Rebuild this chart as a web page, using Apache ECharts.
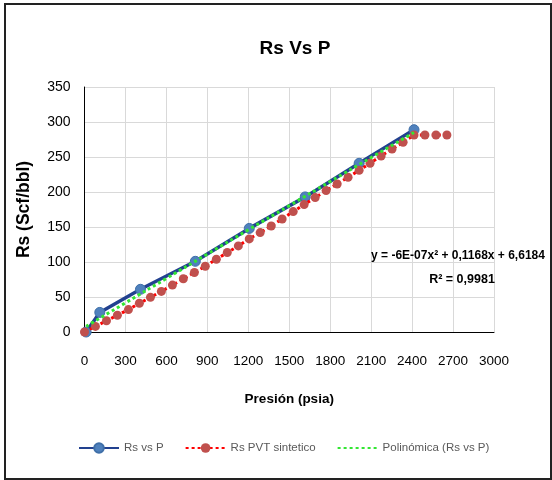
<!DOCTYPE html>
<html>
<head>
<meta charset="utf-8">
<script src="https://cdn.jsdelivr.net/npm/echarts@6/dist/echarts.min.js"></script>
<style>
  html, body { margin: 0; padding: 0; background: #fff; }
  #chart { width: 552px; height: 480px; }
</style>
</head>
<body>
<div id="chart"></div>
<script>
// Laboratory solution gas-oil ratio vs pressure
const presLab = [12, 112, 410, 812, 1207, 1617, 2012, 2414];
const rsLab = [0, 28, 61, 101, 148, 193, 241, 289];

// Synthetic PVT curve (constant above the bubble point)
const presPVT = [0, 80, 161, 241, 322, 402, 483, 563, 644, 724, 805, 885, 966, 1046, 1127,
  1207, 1287, 1368, 1448, 1529, 1609, 1690, 1770, 1851, 1931, 2012, 2092, 2173, 2253, 2334,
  2414, 2494, 2575, 2655];
const rsPVT = [0, 8, 16, 24, 32, 41, 49.5, 58, 67, 76, 85, 94, 104, 113.5, 123,
  133, 142, 151.5, 161.5, 172, 182, 192, 202, 211.5, 221, 231, 241, 251.5, 261.5, 271,
  281.5, 281.5, 281.5, 281.5];

// Polynomial trend line of the laboratory data
const presTrend = [12, 300, 600, 900, 1200, 1500, 1800, 2100, 2414];
const rsTrend = [8, 41.6, 76.5, 111.3, 145.9, 180.5, 214.9, 249.3, 285.1];

const xTicks = { min: 0, max: 3000, interval: 300 };
const yTicks = { min: 0, max: 350, interval: 50 };

const seriesNames = ['Rs vs P', 'Rs PVT sintetico', 'Polinómica (Rs vs P)'];
const trendEquation = 'y = -6E-07x² + 0,1168x + 6,6184';
const trendR2 = 'R² = 0,9981';

const FONT = "'Liberation Sans', Arial, sans-serif";

const zip = (xs, ys) => xs.map((x, i) => [x, ys[i]]);
const plain = v => String(v);

const chart = echarts.init(document.getElementById('chart'));
chart.setOption({
  animation: false,
  backgroundColor: '#fff',
  textStyle: { fontFamily: FONT },
  title: {
    text: 'Rs Vs P',
    left: 290, top: 34, textAlign: 'center',
    textStyle: { fontFamily: FONT, fontSize: 19, fontWeight: 'bold', color: '#000' }
  },
  grid: { left: 84.5, right: 58, top: 87, bottom: 148 },
  xAxis: {
    type: 'value', min: xTicks.min, max: xTicks.max, interval: xTicks.interval,
    name: 'Presión (psia)', nameLocation: 'middle', nameGap: 60,
    nameTextStyle: { fontFamily: FONT, fontSize: 13.5, fontWeight: 'bold', color: '#000' },
    axisLine: { show: true, lineStyle: { color: '#000', width: 1 } },
    axisTick: { show: false },
    axisLabel: { margin: 22, fontFamily: FONT, fontSize: 13.5, color: '#000',
      formatter: plain, showMaxLabel: true, showMinLabel: true, hideOverlap: false },
    splitLine: { show: true, lineStyle: { color: '#d9d9d9', width: 1 } }
  },
  yAxis: {
    type: 'value', min: yTicks.min, max: yTicks.max, interval: yTicks.interval,
    name: 'Rs (Scf/bbl)', nameLocation: 'middle', nameGap: 51, nameRotate: 90,
    nameTextStyle: { fontFamily: FONT, fontSize: 17.5, fontWeight: 'bold', color: '#000' },
    axisLine: { show: true, lineStyle: { color: '#000', width: 1 } },
    axisTick: { show: false },
    axisLabel: { margin: 14, fontFamily: FONT, fontSize: 14, color: '#000', formatter: plain },
    splitLine: { show: true, lineStyle: { color: '#d9d9d9', width: 1 } }
  },
  legend: {
    top: 442, left: 78, width: 470, padding: 0,
    itemWidth: 40, itemHeight: 12, itemGap: 21,
    textStyle: { fontFamily: FONT, fontSize: 11.5, color: '#595959' },
    data: [
      { name: seriesNames[0] },
      { name: seriesNames[1] },
      { name: seriesNames[2], itemStyle: { opacity: 0 } }
    ]
  },
  series: [
    {
      name: seriesNames[0], type: 'line', data: zip(presLab, rsLab),
      symbol: 'circle', symbolSize: 10,
      lineStyle: { color: '#22418f', width: 3.5 },
      itemStyle: { color: '#4f81bd', borderColor: '#3f6fa8', borderWidth: 1 },
      z: 2
    },
    {
      name: seriesNames[1], type: 'line', data: zip(presPVT, rsPVT),
      symbol: 'circle', symbolSize: 9,
      lineStyle: { color: '#ff0000', width: 3, type: [3, 3] },
      itemStyle: { color: '#c0504d', borderColor: '#c0504d', borderWidth: 0 },
      z: 3
    },
    {
      name: seriesNames[2], type: 'line', data: zip(presTrend, rsTrend),
      symbol: 'none', smooth: true,
      lineStyle: { color: '#33e633', width: 3, type: [3, 3] },
      itemStyle: { color: '#33e633' },
      z: 4
    }
  ],
  graphic: [
    {
      type: 'rect', shape: { x: 5, y: 4, width: 546, height: 475 },
      style: { fill: 'none', stroke: '#222', lineWidth: 2 }, z: 100, silent: true
    },
    {
      type: 'text', x: 458, y: 256,
      style: { text: trendEquation, textAlign: 'center', textVerticalAlign: 'middle',
        font: "bold 12px " + FONT, fill: '#000' }, z: 50
    },
    {
      type: 'text', x: 462, y: 280,
      style: { text: trendR2, textAlign: 'center', textVerticalAlign: 'middle',
        font: "bold 12.5px " + FONT, fill: '#000' }, z: 50
    }
  ]
});
</script>
</body>
</html>
